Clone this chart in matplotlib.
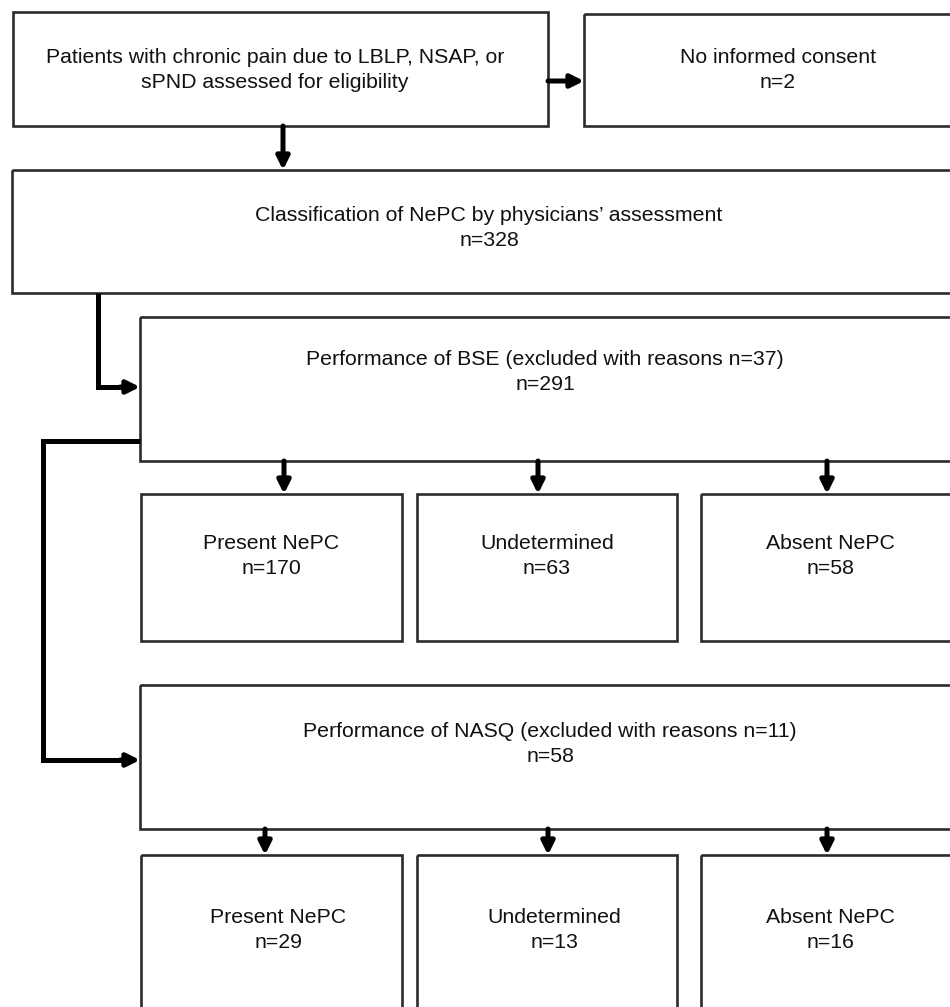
import matplotlib.pyplot as plt
from matplotlib.patches import Rectangle

plt.rcParams['font.family'] = ['Liberation Sans', 'DejaVu Sans']

# flow chart content
start_label = "Patients with chronic pain due to LBLP, NSAP, or\nsPND assessed for eligibility"
no_consent_label = "No informed consent"
no_consent_n = 2
classif_label = "Classification of NePC by physicians\u2019 assessment"
classif_n = 328
bse_label = "Performance of BSE"
bse_excluded = 37
bse_n = 291
nasq_label = "Performance of NASQ"
nasq_excluded = 11
nasq_n = 58
groups = ["Present NePC", "Undetermined", "Absent NePC"]
bse_counts = [170, 63, 58]
nasq_counts = [29, 13, 16]

W, H = 950, 1007
fig = plt.figure(figsize=(W / 100, H / 100), dpi=100)
ax = fig.add_axes([0, 0, 1, 1])
ax.set_xlim(0, W)
ax.set_ylim(H, 0)
ax.axis('off')

BOX_LW = 1.9
BOX_C = '#2b2b2b'
FS = 15.3


def box(x0, y0, x1, y1):
    ax.add_patch(Rectangle((x0, y0), x1 - x0, y1 - y0, fill=False,
                           lw=BOX_LW, ec=BOX_C, clip_on=True))


def text(x, y, s):
    ax.text(x, y, s, ha='center', va='center', fontsize=FS,
            linespacing=1.42, color='#111111')


def arrow(x0, y0, x1, y1):
    ax.annotate('', xy=(x1, y1), xytext=(x0, y0),
                arrowprops=dict(arrowstyle='-|>', lw=3.6, color='black',
                                mutation_scale=19, shrinkA=0, shrinkB=0))


# top row
box(13, 12, 548, 126)
text(275, 70, start_label)
box(584, 14, 960, 126)
text(778, 70, f"{no_consent_label}\nn={no_consent_n}")
arrow(548, 81, 584, 81)
arrow(283, 126, 283, 170)

# classification
box(12, 170, 960, 293)
text(489, 228, f"{classif_label}\nn={classif_n}")

# BSE
ax.plot([98, 98, 125], [293, 387, 387], color='black', lw=3.6,
        solid_joinstyle='miter', solid_capstyle='butt')
arrow(120, 387, 140, 387)
box(140, 317, 960, 461)
text(545, 372, f"{bse_label} (excluded with reasons n={bse_excluded})\nn={bse_n}")

row_x = [(141, 402), (417, 677), (701, 960)]
bse_arrow_x = [284, 538, 827]
for (x0, x1), ax_x, g, c in zip(row_x, bse_arrow_x, groups, bse_counts):
    arrow(ax_x, 461, ax_x, 494)
    box(x0, 494, x1, 641)
    cx = (x0 + x1) / 2 if x1 < 900 else 830
    text(cx, 556, f"{g}\nn={c}")

# NASQ
ax.plot([140, 43, 43, 125], [441, 441, 760, 760], color='black', lw=3.6,
        solid_joinstyle='miter', solid_capstyle='butt')
arrow(120, 760, 140, 760)
box(140, 685, 960, 829)
text(550, 744, f"{nasq_label} (excluded with reasons n={nasq_excluded})\nn={nasq_n}")

nasq_arrow_x = [265, 548, 827]
for (x0, x1), ax_x, g, c in zip(row_x, nasq_arrow_x, groups, nasq_counts):
    arrow(ax_x, 829, ax_x, 855)
    box(x0, 855, x1, 1020)
    cx = (x0 + x1) / 2 + 7 if x1 < 900 else 830
    text(cx, 930, f"{g}\nn={c}")

fig.savefig('out.png', dpi=100, facecolor='white')
